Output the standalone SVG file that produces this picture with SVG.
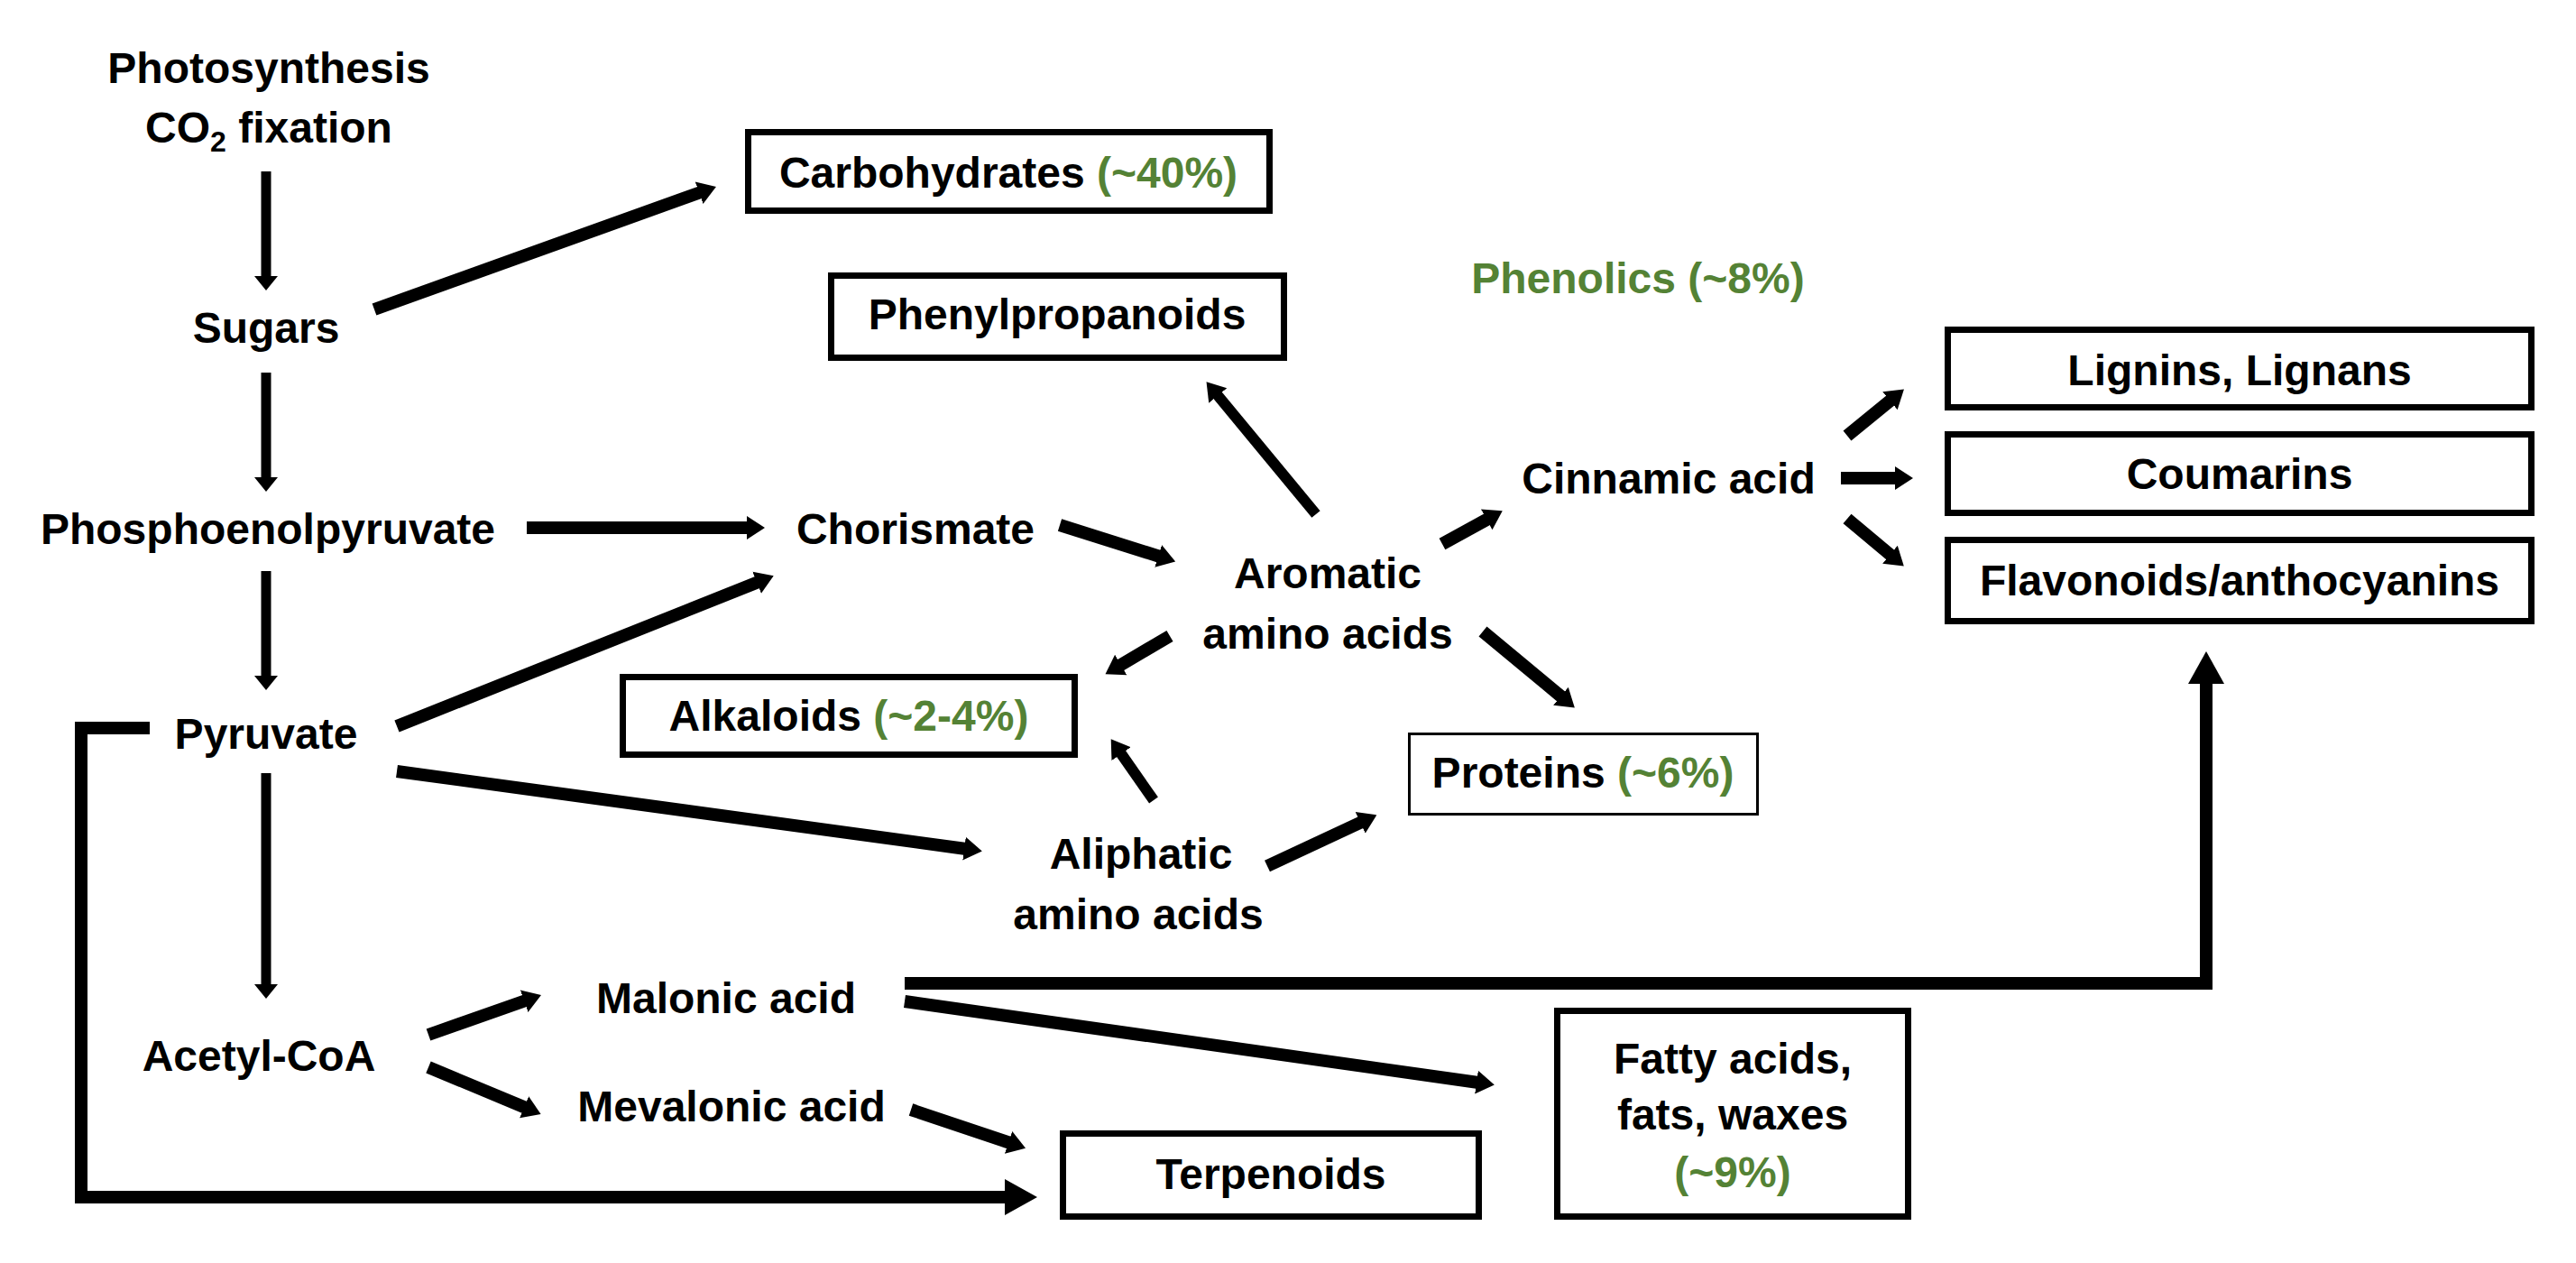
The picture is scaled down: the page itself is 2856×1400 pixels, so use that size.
<svg xmlns="http://www.w3.org/2000/svg" width="2856" height="1400" viewBox="0 0 2856 1400">
<style>
text{font-family:"Liberation Sans",Arial,sans-serif;font-weight:bold;font-size:48px;fill:#000;text-anchor:middle}
.g{fill:#548235}
.box{fill:#fff;stroke:#000;stroke-width:7}
.thin{stroke-width:3}
.c{fill:none;stroke:#000;stroke-width:14;stroke-linejoin:miter}
.v{stroke-width:11}
.m{stroke-width:12}
</style>
<defs>
<marker id="hs" markerUnits="userSpaceOnUse" viewBox="0 -14 22 28" markerWidth="22" markerHeight="28" refX="2" refY="0" orient="auto"><path d="M0,-13 L20,0 L0,13 Z" fill="#000"/></marker>
<marker id="hv" markerUnits="userSpaceOnUse" viewBox="0 -14 18 28" markerWidth="18" markerHeight="28" refX="1" refY="0" orient="auto"><path d="M0,-13 L16,0 L0,13 Z" fill="#000"/></marker>
<marker id="hb" markerUnits="userSpaceOnUse" viewBox="0 -21 38 42" markerWidth="38" markerHeight="42" refX="2" refY="0" orient="auto"><path d="M0,-20 L36,0 L0,20 Z" fill="#000"/></marker>
</defs>
<rect width="2856" height="1400" fill="#fff"/>
<g id="connectors">
<line class="c v" x1="295" y1="190" x2="295" y2="307" marker-end="url(#hv)"/>
<line class="c v" x1="295" y1="413" x2="295" y2="530" marker-end="url(#hv)"/>
<line class="c v" x1="295" y1="633" x2="295" y2="750" marker-end="url(#hv)"/>
<line class="c v" x1="295" y1="857" x2="295" y2="1092" marker-end="url(#hv)"/>
<line class="c" x1="415" y1="343" x2="777" y2="213" marker-end="url(#hs)"/>
<line class="c" x1="584" y1="585" x2="830" y2="585" marker-end="url(#hs)"/>
<line class="c" x1="440" y1="805" x2="841" y2="645" marker-end="url(#hs)"/>
<line class="c" x1="440" y1="855" x2="1071" y2="941" marker-end="url(#hs)"/>
<line class="c" x1="1175" y1="582" x2="1286" y2="617" marker-end="url(#hs)"/>
<line class="c m" x1="1459" y1="570" x2="1349" y2="437" marker-end="url(#hs)"/>
<line class="c" x1="1599" y1="603" x2="1650" y2="575" marker-end="url(#hs)"/>
<line class="c" x1="1297" y1="705" x2="1241" y2="738" marker-end="url(#hs)"/>
<line class="c" x1="1644" y1="700" x2="1732" y2="773" marker-end="url(#hs)"/>
<line class="c m" x1="1279" y1="887" x2="1242" y2="834" marker-end="url(#hs)"/>
<line class="c" x1="1405" y1="960" x2="1510" y2="911" marker-end="url(#hs)"/>
<line class="c" x1="2048" y1="483" x2="2097" y2="443" marker-end="url(#hs)"/>
<line class="c" x1="2041" y1="530" x2="2103" y2="530" marker-end="url(#hs)"/>
<line class="c" x1="2048" y1="575" x2="2097" y2="616" marker-end="url(#hs)"/>
<line class="c" x1="475" y1="1147" x2="583" y2="1109" marker-end="url(#hs)"/>
<line class="c" x1="475" y1="1183" x2="583" y2="1228" marker-end="url(#hs)"/>
<line class="c" x1="1003" y1="1110" x2="1639" y2="1200" marker-end="url(#hs)"/>
<line class="c" x1="1010" y1="1230" x2="1120" y2="1267" marker-end="url(#hs)"/>
<polyline class="c" points="1003,1090 2446,1090 2446,756" marker-end="url(#hb)"/>
<polyline class="c" points="166,807 90,807 90,1327 1116,1327" marker-end="url(#hb)"/>
</g>
<g id="photosynthesis"><text x="298" y="92">Photosynthesis</text><text x="298" y="158">CO<tspan font-size="32" dy="10">2</tspan><tspan dy="-10"> fixation</tspan></text></g>
<g id="sugars"><text x="295" y="380">Sugars</text></g>
<g id="pep"><text x="297" y="603">Phosphoenolpyruvate</text></g>
<g id="pyruvate"><text x="295" y="830">Pyruvate</text></g>
<g id="acetylcoa"><text x="287" y="1187">Acetyl-CoA</text></g>
<g id="malonic"><text x="805" y="1123">Malonic acid</text></g>
<g id="mevalonic"><text x="811" y="1243">Mevalonic acid</text></g>
<g id="chorismate"><text x="1015" y="603">Chorismate</text></g>
<g id="aromatic"><text x="1472" y="652">Aromatic</text><text x="1472" y="719">amino acids</text></g>
<g id="cinnamic"><text x="1850" y="547">Cinnamic acid</text></g>
<g id="aliphatic"><text x="1265" y="963">Aliphatic</text><text x="1262" y="1030">amino acids</text></g>
<g id="phenolics"><text class="g" x="1816" y="325">Phenolics (~8%)</text></g>
<g id="carbohydrates"><rect class="box" x="829.5" y="146.5" width="578" height="87"/><text x="1118" y="208">Carbohydrates <tspan class="g">(~40%)</tspan></text></g>
<g id="phenylpropanoids"><rect class="box" x="921.5" y="305.5" width="502" height="91"/><text x="1172" y="365">Phenylpropanoids</text></g>
<g id="alkaloids"><rect class="box" x="690.5" y="750.5" width="501" height="86"/><text x="941" y="810">Alkaloids <tspan class="g">(~2-4%)</tspan></text></g>
<g id="proteins"><rect class="box thin" x="1562.5" y="813.5" width="386" height="89"/><text x="1755" y="873">Proteins <tspan class="g">(~6%)</tspan></text></g>
<g id="lignins"><rect class="box" x="2159.5" y="365.5" width="647" height="86"/><text x="2483" y="427">Lignins, Lignans</text></g>
<g id="coumarins"><rect class="box" x="2159.5" y="481.5" width="647" height="87"/><text x="2483" y="542">Coumarins</text></g>
<g id="flavonoids"><rect class="box" x="2159.5" y="598.5" width="647" height="90"/><text x="2483" y="660">Flavonoids/anthocyanins</text></g>
<g id="terpenoids"><rect class="box" x="1178.5" y="1256.5" width="461" height="92"/><text x="1409" y="1318">Terpenoids</text></g>
<g id="fatty"><rect class="box" x="1726.5" y="1120.5" width="389" height="228"/><text x="1921" y="1190">Fatty acids,</text><text x="1921" y="1252">fats, waxes</text><text class="g" x="1921" y="1316">(~9%)</text></g>
</svg>
